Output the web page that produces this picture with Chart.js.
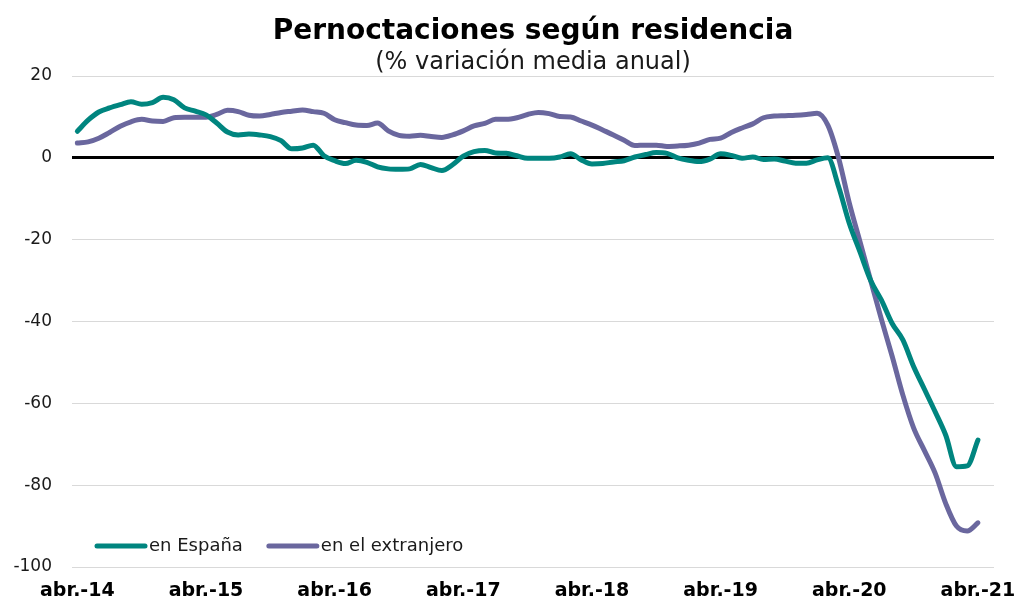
<!DOCTYPE html>
<html>
<head>
<meta charset="utf-8">
<script src="https://cdn.jsdelivr.net/npm/chart.js@4"></script>
<style>
html,body{margin:0;padding:0;background:#fff;}
#wrap{width:1032px;height:598px;}
</style>
</head>
<body>
<div id="wrap"><canvas id="c" width="1032" height="598"></canvas></div>
<script>
const categories = [
'abr.-14','may.-14','jun.-14','jul.-14','ago.-14','sep.-14','oct.-14','nov.-14','dic.-14','ene.-15','feb.-15','mar.-15',
'abr.-15','may.-15','jun.-15','jul.-15','ago.-15','sep.-15','oct.-15','nov.-15','dic.-15','ene.-16','feb.-16','mar.-16',
'abr.-16','may.-16','jun.-16','jul.-16','ago.-16','sep.-16','oct.-16','nov.-16','dic.-16','ene.-17','feb.-17','mar.-17',
'abr.-17','may.-17','jun.-17','jul.-17','ago.-17','sep.-17','oct.-17','nov.-17','dic.-17','ene.-18','feb.-18','mar.-18',
'abr.-18','may.-18','jun.-18','jul.-18','ago.-18','sep.-18','oct.-18','nov.-18','dic.-18','ene.-19','feb.-19','mar.-19',
'abr.-19','may.-19','jun.-19','jul.-19','ago.-19','sep.-19','oct.-19','nov.-19','dic.-19','ene.-20','feb.-20','mar.-20',
'abr.-20','may.-20','jun.-20','jul.-20','ago.-20','sep.-20','oct.-20','nov.-20','dic.-20','ene.-21','feb.-21','mar.-21',
'abr.-21','may.-21'
];
const tickLabels = ['abr.-14','abr.-15','abr.-16','abr.-17','abr.-18','abr.-19','abr.-20','abr.-21'];
const seriesNames = ['en España','en el extranjero'];
const espana = [
6.5, 9.2, 11.2, 12.2, 13.0, 13.7, 13.1, 13.5, 14.8, 14.2, 12.2, 11.4,
10.5, 8.5, 6.3, 5.6, 5.8, 5.6, 5.2, 4.2, 2.2, 2.4, 3.1, 0.5,
-0.7, -1.4, -0.6, -1.1, -2.2, -2.7, -2.8, -2.7, -1.6, -2.4, -3.1, -1.7,
0.4, 1.5, 1.8, 1.2, 1.1, 0.5, -0.1, -0.1, -0.1, 0.2, 1.0, -0.5,
-1.5, -1.4, -1.0, -0.7, 0.2, 0.8, 1.3, 1.1, 0.0, -0.6, -0.9, -0.3,
1.0, 0.6, -0.1, 0.2, -0.4, -0.3, -0.8, -1.3, -1.3, -0.5, 0.0, -7.0,
-16.0, -23.0, -30.0, -34.8, -40.5, -44.5, -51.0, -56.5, -62.0, -67.8, -75.5, -75.3,
-69.0, null
];
const extranjero = [
3.6, 3.9, 4.8, 6.2, 7.7, 8.8, 9.4, 9.0, 8.9, 9.8, 9.9, 9.9,
9.9, 10.6, 11.6, 11.3, 10.4, 10.2, 10.6, 11.1, 11.4, 11.7, 11.3, 10.9,
9.3, 8.6, 8.0, 7.9, 8.5, 6.6, 5.5, 5.3, 5.5, 5.2, 5.0, 5.6,
6.6, 7.8, 8.4, 9.4, 9.4, 9.8, 10.6, 11.1, 10.8, 10.1, 10.0, 9.0,
8.0, 6.8, 5.6, 4.3, 3.0, 3.1, 3.1, 2.8, 2.9, 3.1, 3.6, 4.5,
4.8, 6.2, 7.3, 8.3, 9.8, 10.2, 10.3, 10.4, 10.6, 10.9, 8.0, 0.0,
-11.0, -20.5, -30.0, -39.5, -48.5, -58.0, -66.0, -71.5, -77.0, -84.5, -90.0, -91.2,
-89.2, null
];
const yTicks = [20, 0, -20, -40, -60, -80, -100];
const colors = ['#00857f', '#6a679e'];

const FONT = 'DejaVu Sans';

const insideLegend = {
  id: 'insideLegend',
  afterDraw(chart) {
    const ctx = chart.ctx;
    const area = chart.chartArea;
    let x = area.left + 25;
    const y = 546;
    ctx.save();
    ctx.font = '18px "' + FONT + '"';
    ctx.textBaseline = 'middle';
    chart.data.datasets.forEach((ds) => {
      ctx.strokeStyle = ds.borderColor;
      ctx.lineWidth = 5;
      ctx.lineCap = 'round';
      ctx.beginPath();
      ctx.moveTo(x, y);
      ctx.lineTo(x + 48, y);
      ctx.stroke();
      x += 52;
      ctx.fillStyle = '#1a1a1a';
      ctx.fillText(ds.label, x, y);
      x += ctx.measureText(ds.label).width + 26;
    });
    ctx.restore();
  }
};

new Chart(document.getElementById('c'), {
  type: 'line',
  data: {
    labels: categories,
    datasets: [
      { label: seriesNames[0], data: espana, borderColor: colors[0], backgroundColor: colors[0] },
      { label: seriesNames[1], data: extranjero, borderColor: colors[1], backgroundColor: colors[1] }
    ]
  },
  options: {
    responsive: false,
    animation: false,
    devicePixelRatio: 1,
    layout: { padding: { top: 0, right: 38, left: 0, bottom: 0 } },
    elements: {
      line: { borderWidth: 5, cubicInterpolationMode: 'monotone', borderCapStyle: 'round', borderJoinStyle: 'round' },
      point: { radius: 0, hoverRadius: 0 }
    },
    plugins: {
      legend: { display: false },
      tooltip: { enabled: false },
      title: {
        display: true,
        fullSize: false,
        text: 'Pernoctaciones según residencia',
        color: '#000',
        font: { family: FONT, size: 28, weight: 'bold' },
        padding: { top: 15, bottom: 1 }
      },
      subtitle: {
        display: true,
        fullSize: false,
        text: '(% variación media anual)',
        color: '#1a1a1a',
        font: { family: FONT, size: 24, lineHeight: 1.1 },
        padding: { top: 0, bottom: 0 }
      }
    },
    scales: {
      x: {
        type: 'category',
        offset: true,
        grid: { display: false, drawTicks: false },
        border: { display: false },
        afterFit(scale) { scale.height = 31; },
        ticks: {
          autoSkip: false,
          maxRotation: 0,
          minRotation: 0,
          padding: 13,
          color: '#000',
          font: { family: FONT, size: 19, weight: 'bold' },
          callback(value, index) {
            const lab = categories[index];
            return tickLabels.includes(lab) ? lab : '';
          }
        }
      },
      y: {
        min: -100,
        max: 20,
        afterBuildTicks(scale) { scale.ticks = yTicks.map(v => ({ value: v })); },
        afterFit(scale) { scale.width = 72; },
        border: { display: false },
        grid: {
          drawTicks: false,
          color: (c) => (c.tick && c.tick.value === 0) ? '#000' : '#d9d9d9',
          lineWidth: (c) => (c.tick && c.tick.value === 0) ? 3 : 1
        },
        ticks: {
          padding: 20,
          color: '#1a1a1a',
          font: { family: FONT, size: 17 }
        }
      }
    }
  },
  plugins: [insideLegend]
});
</script>
</body>
</html>
